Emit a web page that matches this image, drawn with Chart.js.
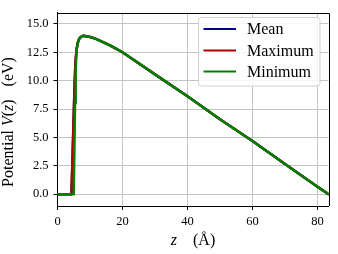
<!DOCTYPE html>
<html>
<head>
<meta charset="utf-8">
<script src="https://cdn.jsdelivr.net/npm/chart.js@4/dist/chart.umd.min.js"></script>
<style>
html,body{margin:0;padding:0;background:#fff;}
#wrap{width:338px;height:254px;}
</style>
</head>
<body>
<div id="wrap"><canvas id="c" width="338" height="254"></canvas></div>
<script>
// ---- data ----
const seriesLabels = ["Mean", "Maximum", "Minimum"];
const seriesColors = ["#00008b", "#b00000", "#008000"];

const zMean = [0, 4.3, 4.6, 4.9, 5.2, 5.5, 5.85, 6.2, 6.7, 7.3, 8, 10, 12, 14, 16, 18, 20, 30, 40, 50, 60, 70, 80, 83.4];
const vMean = [0, 0, 3.0, 6.0, 9.0, 11.5, 12.7, 13.3, 13.7, 13.88, 13.95, 13.85, 13.65, 13.4, 13.12, 12.82, 12.5, 10.55, 8.62, 6.6, 4.68, 2.65, 0.65, 0];

const zMax = [0, 4.3, 4.6, 4.9, 5.2, 5.5, 5.85, 6.2, 6.7, 7.3, 8, 10, 12, 14, 16, 18, 20, 30, 40, 50, 60, 70, 80, 83.4];
const vMax = [0, 0, 3.0, 6.0, 9.0, 11.5, 12.7, 13.3, 13.7, 13.88, 13.95, 13.85, 13.65, 13.4, 13.12, 12.82, 12.5, 10.55, 8.62, 6.6, 4.68, 2.65, 0.65, 0];

const zMin = [0, 5.0, 5.2, 5.4, 5.6, 5.85, 6.2, 6.7, 7.3, 8, 10, 12, 14, 16, 18, 20, 30, 40, 50, 60, 70, 80, 83.4];
const vMin = [0, 0, 4.0, 8.0, 11.0, 12.6, 13.3, 13.7, 13.88, 13.95, 13.85, 13.65, 13.4, 13.12, 12.82, 12.5, 10.55, 8.62, 6.6, 4.68, 2.65, 0.65, 0];

const xTicks = [0, 20, 40, 60, 80];
const yTicks = [0, 2.5, 5, 7.5, 10, 12.5, 15];

const toPts = (zs, vs) => zs.map((z, i) => ({x: z, y: vs[i]}));

const SERIF = '"Liberation Serif", "DejaVu Serif", serif';

const framePlugin = {
  id: 'frame',
  afterDraw(chart) {
    const ctx = chart.ctx;
    const a = chart.chartArea;
    ctx.save();
    // top and right spines
    ctx.strokeStyle = '#000';
    ctx.lineWidth = 1;
    ctx.beginPath();
    ctx.moveTo(Math.round(a.left), Math.round(a.top) + 0.5);
    ctx.lineTo(Math.round(a.right) + 0.5, Math.round(a.top) + 0.5);
    ctx.lineTo(Math.round(a.right) + 0.5, Math.round(a.bottom));
    ctx.stroke();

    // legend
    const bx = 198.5, by = 17.5, bw = 121.5, bh = 68.5;
    ctx.beginPath();
    ctx.roundRect(bx, by, bw, bh, 3);
    ctx.fillStyle = 'rgba(255,255,255,0.85)';
    ctx.fill();
    ctx.strokeStyle = '#d0d0d0';
    ctx.lineWidth = 1;
    ctx.stroke();
    const rows = [29, 50.5, 71.5];
    chart.data.datasets.forEach((ds, i) => {
      const y = rows[i];
      ctx.strokeStyle = ds.borderColor;
      ctx.lineWidth = 2;
      ctx.beginPath();
      ctx.moveTo(203.5, y);
      ctx.lineTo(236, y);
      ctx.stroke();
      ctx.fillStyle = '#000';
      ctx.font = '16px ' + SERIF;
      ctx.textAlign = 'left';
      ctx.textBaseline = 'alphabetic';
      ctx.fillText(ds.label, 247, y + 5);
    });

    // axis titles with italic parts
    const drawPieces = (pieces, cx, cy, rot) => {
      ctx.save();
      ctx.translate(cx, cy);
      if (rot) ctx.rotate(-Math.PI / 2);
      ctx.fillStyle = '#000';
      ctx.textBaseline = 'alphabetic';
      ctx.textAlign = 'left';
      let total = 0;
      pieces.forEach(p => {
        if (p.gap) { total += p.gap; return; }
        ctx.font = (p.it ? 'italic ' : '') + '16px ' + SERIF;
        total += ctx.measureText(p.t).width;
      });
      let x = -total / 2;
      pieces.forEach(p => {
        if (p.gap) { x += p.gap; return; }
        ctx.font = (p.it ? 'italic ' : '') + '16px ' + SERIF;
        ctx.fillText(p.t, x, 5);
        x += ctx.measureText(p.t).width;
      });
      ctx.restore();
    };
    drawPieces([{t: 'z', it: true}, {gap: 16}, {t: '(Å)'}], 193, 240, false);
    drawPieces([{t: 'Potential '}, {t: 'V', it: true}, {t: '('}, {t: 'z', it: true}, {t: ')'}, {gap: 13}, {t: '(eV)'}], 8, 122, true);
    ctx.restore();
  }
};

new Chart(document.getElementById('c'), {
  type: 'line',
  data: {
    datasets: [
      {label: seriesLabels[0], data: toPts(zMean, vMean), borderColor: seriesColors[0], order: 2},
      {label: seriesLabels[1], data: toPts(zMax, vMax), borderColor: seriesColors[1], order: 1},
      {label: seriesLabels[2], data: toPts(zMin, vMin), borderColor: seriesColors[2], order: 0}
    ].map(d => Object.assign(d, {borderWidth: 2.5, pointRadius: 0, tension: 0, fill: false, borderJoinStyle: 'round', borderCapStyle: 'round'}))
  },
  options: {
    responsive: false,
    animation: false,
    devicePixelRatio: 1,
    layout: {padding: {top: 10, right: 9.5, left: 0, bottom: 0}},
    plugins: {legend: {display: false}, tooltip: {enabled: false}, title: {display: false}},
    scales: {
      x: {
        type: 'linear',
        min: 0,
        max: 83.4,
        afterBuildTicks: s => { s.ticks = xTicks.map(v => ({value: v})); },
        afterFit: s => { s.height = 48; },
        grid: {color: '#c4c4c4', lineWidth: 1, tickColor: '#000', tickLength: 4, tickWidth: 1},
        border: {display: true, color: '#000', width: 1},
        ticks: {color: '#000', font: {family: SERIF, size: 12.5}, padding: 4, maxRotation: 0, callback: v => String(v)}
      },
      y: {
        type: 'linear',
        min: -1.04,
        max: 16.0,
        afterBuildTicks: s => { s.ticks = yTicks.map(v => ({value: v})); },
        afterFit: s => { s.width = 57.5; },
        grid: {color: '#c4c4c4', lineWidth: 1, tickColor: '#000', tickLength: 4, tickWidth: 1},
        border: {display: true, color: '#000', width: 1},
        ticks: {color: '#000', font: {family: SERIF, size: 12.5}, padding: 5, callback: v => v.toFixed(1)}
      }
    }
  },
  plugins: [framePlugin]
});
</script>
</body>
</html>
